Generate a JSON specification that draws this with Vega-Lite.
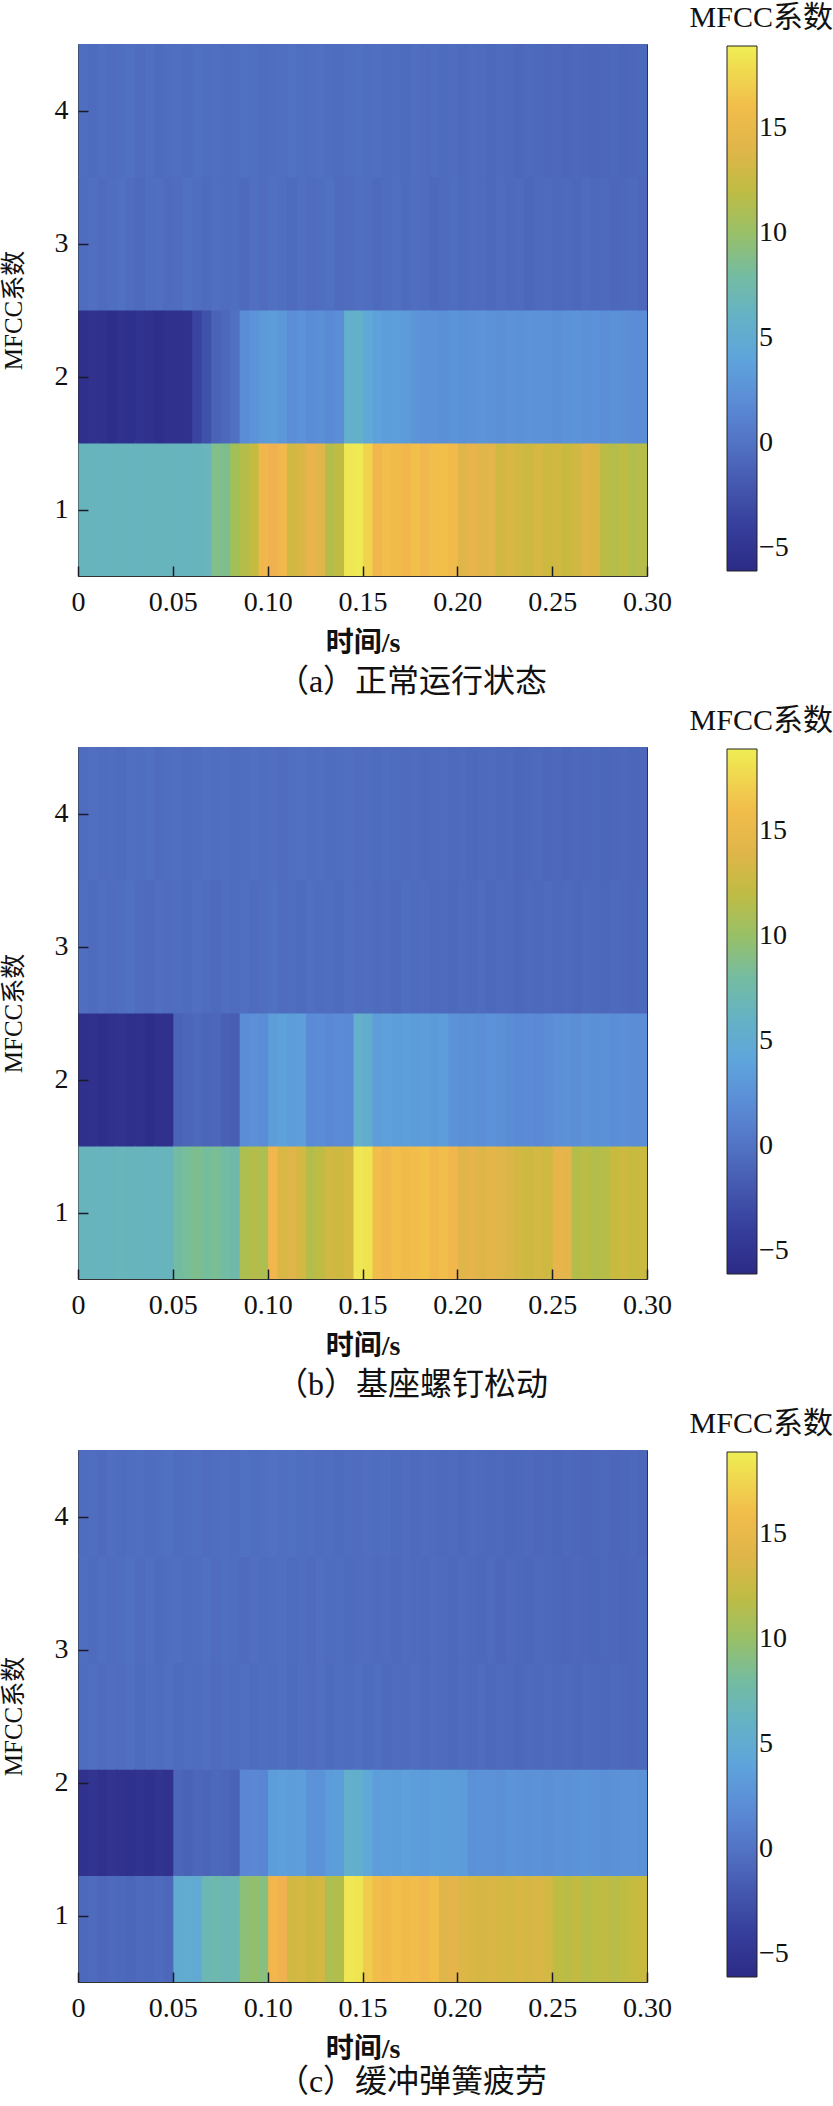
{
"$schema": "https://vega.github.io/schema/vega-lite/v6.json",
"padding": {"left": 0, "top": 2, "right": 0, "bottom": 0},
"background": "white",
"spacing": 7,
"resolve": {"scale": {"color": "independent"}, "legend": {"color": "independent"}},
"config": {
  "font": "Liberation Serif, Noto Sans CJK SC",
  "view": {"stroke": "#333", "strokeWidth": 1},
  "axis": {"labelFont": "Liberation Serif", "labelFontSize": 28, "labelColor": "#111", "titleFont": "Liberation Serif, Noto Sans CJK SC", "titleFontSize": 28, "titleColor": "#111", "titleFontWeight": "normal", "tickColor": "#1a1a2a", "tickWidth": 1.5, "tickSize": -10, "domain": false, "grid": false, "labelFlush": false},
  "legend": {"gradientLength": 525, "gradientThickness": 30, "gradientStrokeColor": "#222", "gradientStrokeWidth": 1, "labelFont": "Liberation Serif", "labelFontSize": 28, "labelColor": "#111", "labelOffset": 6, "labelOverlap": false, "padding": 0},
  "title": {"font": "Liberation Serif, Noto Sans CJK SC", "fontSize": 28, "fontWeight": "normal", "color": "#111"}
},
"datasets": {
"a": [
{"t":0,"k1":6.5,"k2":-5.6,"k3":-0.5,"k4":-0.4},
{"t":0.005,"k1":6.5,"k2":-5.3,"k3":-0.3,"k4":-0.6},
{"t":0.01,"k1":6.4,"k2":-5.5,"k3":-0.6,"k4":-0.3},
{"t":0.015,"k1":6.5,"k2":-5.8,"k3":-0.4,"k4":-0.5},
{"t":0.02,"k1":6.5,"k2":-5.4,"k3":-0.2,"k4":-0.4},
{"t":0.025,"k1":6.5,"k2":-5.6,"k3":-0.5,"k4":-0.2},
{"t":0.03,"k1":6.4,"k2":-5.2,"k3":-0.7,"k4":-0.5},
{"t":0.035,"k1":6.5,"k2":-5.5,"k3":-0.4,"k4":-0.3},
{"t":0.04,"k1":6.5,"k2":-5.7,"k3":-0.3,"k4":-0.6},
{"t":0.045,"k1":6.5,"k2":-5.4,"k3":-0.6,"k4":-0.4},
{"t":0.05,"k1":6.5,"k2":-5.5,"k3":-0.5,"k4":-0.3},
{"t":0.055,"k1":6.4,"k2":-5.3,"k3":-0.2,"k4":-0.5},
{"t":0.06,"k1":6.5,"k2":-3.5,"k3":-0.4,"k4":-0.2},
{"t":0.065,"k1":6.6,"k2":-2.5,"k3":-0.6,"k4":-0.4},
{"t":0.07,"k1":9.0,"k2":-1.2,"k3":-0.3,"k4":-0.3},
{"t":0.075,"k1":8.8,"k2":-0.8,"k3":-0.5,"k4":-0.5},
{"t":0.08,"k1":10.5,"k2":-0.2,"k3":-0.4,"k4":-0.4},
{"t":0.085,"k1":11.5,"k2":2.0,"k3":-0.7,"k4":-0.2},
{"t":0.09,"k1":12.3,"k2":2.5,"k3":-0.3,"k4":-0.3},
{"t":0.095,"k1":15.5,"k2":3.2,"k3":-0.5,"k4":-0.5},
{"t":0.1,"k1":15.0,"k2":3.5,"k3":-0.2,"k4":-0.4},
{"t":0.105,"k1":15.6,"k2":3.0,"k3":-0.4,"k4":-0.3},
{"t":0.11,"k1":13.0,"k2":2.2,"k3":-0.6,"k4":-0.1},
{"t":0.115,"k1":13.6,"k2":2.5,"k3":-0.3,"k4":-0.4},
{"t":0.12,"k1":14.6,"k2":2.0,"k3":-0.5,"k4":-0.3},
{"t":0.125,"k1":14.0,"k2":2.3,"k3":-0.4,"k4":-0.2},
{"t":0.13,"k1":11.5,"k2":1.8,"k3":-0.2,"k4":-0.4},
{"t":0.135,"k1":12.0,"k2":2.2,"k3":-0.6,"k4":-0.5},
{"t":0.14,"k1":18.5,"k2":5.5,"k3":-0.5,"k4":-0.3},
{"t":0.145,"k1":18.6,"k2":5.8,"k3":-0.3,"k4":-0.2},
{"t":0.15,"k1":17.5,"k2":4.5,"k3":-0.4,"k4":-0.4},
{"t":0.155,"k1":15.5,"k2":3.8,"k3":-0.7,"k4":-0.3},
{"t":0.16,"k1":16.0,"k2":3.5,"k3":-0.5,"k4":-0.5},
{"t":0.165,"k1":15.8,"k2":3.6,"k3":-0.3,"k4":-0.4},
{"t":0.17,"k1":15.5,"k2":3.3,"k3":-0.6,"k4":-0.6},
{"t":0.175,"k1":16.2,"k2":2.8,"k3":-0.4,"k4":-0.3},
{"t":0.18,"k1":15.6,"k2":2.5,"k3":-0.5,"k4":-0.5},
{"t":0.185,"k1":16.0,"k2":2.6,"k3":-0.8,"k4":-0.4},
{"t":0.19,"k1":16.3,"k2":2.3,"k3":-0.6,"k4":-0.6},
{"t":0.195,"k1":15.8,"k2":2.7,"k3":-0.4,"k4":-0.5},
{"t":0.2,"k1":14.0,"k2":2.4,"k3":-0.7,"k4":-0.7},
{"t":0.205,"k1":14.5,"k2":2.6,"k3":-0.5,"k4":-0.5},
{"t":0.21,"k1":14.0,"k2":2.8,"k3":-0.6,"k4":-0.6},
{"t":0.215,"k1":14.2,"k2":2.5,"k3":-0.8,"k4":-0.8},
{"t":0.22,"k1":13.0,"k2":2.3,"k3":-0.5,"k4":-0.6},
{"t":0.225,"k1":13.5,"k2":2.6,"k3":-0.7,"k4":-0.7},
{"t":0.23,"k1":13.0,"k2":2.4,"k3":-0.6,"k4":-0.9},
{"t":0.235,"k1":12.8,"k2":2.7,"k3":-0.9,"k4":-0.7},
{"t":0.24,"k1":13.4,"k2":2.5,"k3":-0.7,"k4":-0.8},
{"t":0.245,"k1":12.8,"k2":2.6,"k3":-0.6,"k4":-0.9},
{"t":0.25,"k1":13.0,"k2":2.3,"k3":-0.8,"k4":-0.8},
{"t":0.255,"k1":12.5,"k2":2.5,"k3":-0.7,"k4":-1.0},
{"t":0.26,"k1":13.0,"k2":2.7,"k3":-0.9,"k4":-0.8},
{"t":0.265,"k1":13.8,"k2":2.4,"k3":-0.6,"k4":-0.9},
{"t":0.27,"k1":13.5,"k2":2.6,"k3":-0.8,"k4":-1.0},
{"t":0.275,"k1":11.8,"k2":2.2,"k3":-0.7,"k4":-0.9},
{"t":0.28,"k1":11.5,"k2":2.4,"k3":-0.9,"k4":-0.8},
{"t":0.285,"k1":12.0,"k2":2.3,"k3":-0.8,"k4":-1.0},
{"t":0.29,"k1":11.3,"k2":2.1,"k3":-0.7,"k4":-0.9},
{"t":0.295,"k1":11.6,"k2":2.0,"k3":-0.9,"k4":-0.8}
],
"b": [
{"t":0,"k1":6.5,"k2":-5.6,"k3":-0.4,"k4":-0.5},
{"t":0.005,"k1":6.5,"k2":-5.4,"k3":-0.6,"k4":-0.3},
{"t":0.01,"k1":6.4,"k2":-5.7,"k3":-0.3,"k4":-0.5},
{"t":0.015,"k1":6.5,"k2":-5.5,"k3":-0.5,"k4":-0.4},
{"t":0.02,"k1":6.6,"k2":-5.3,"k3":-0.4,"k4":-0.6},
{"t":0.025,"k1":6.5,"k2":-5.6,"k3":-0.2,"k4":-0.3},
{"t":0.03,"k1":6.5,"k2":-5.4,"k3":-0.5,"k4":-0.4},
{"t":0.035,"k1":6.4,"k2":-5.8,"k3":-0.6,"k4":-0.2},
{"t":0.04,"k1":6.5,"k2":-5.5,"k3":-0.3,"k4":-0.5},
{"t":0.045,"k1":6.5,"k2":-5.4,"k3":-0.5,"k4":-0.4},
{"t":0.05,"k1":8.0,"k2":-1.2,"k3":-0.4,"k4":-0.3},
{"t":0.055,"k1":8.5,"k2":-1.0,"k3":-0.6,"k4":-0.5},
{"t":0.06,"k1":8.8,"k2":-0.8,"k3":-0.3,"k4":-0.4},
{"t":0.065,"k1":8.3,"k2":-1.1,"k3":-0.5,"k4":-0.2},
{"t":0.07,"k1":8.6,"k2":-0.9,"k3":-0.7,"k4":-0.4},
{"t":0.075,"k1":7.8,"k2":-1.4,"k3":-0.4,"k4":-0.3},
{"t":0.08,"k1":7.5,"k2":-1.6,"k3":-0.5,"k4":-0.5},
{"t":0.085,"k1":11.0,"k2":2.0,"k3":-0.3,"k4":-0.4},
{"t":0.09,"k1":11.5,"k2":2.3,"k3":-0.6,"k4":-0.2},
{"t":0.095,"k1":11.0,"k2":2.1,"k3":-0.4,"k4":-0.4},
{"t":0.1,"k1":15.5,"k2":3.5,"k3":-0.2,"k4":-0.3},
{"t":0.105,"k1":13.5,"k2":3.8,"k3":-0.5,"k4":-0.5},
{"t":0.11,"k1":14.0,"k2":3.4,"k3":-0.4,"k4":-0.3},
{"t":0.115,"k1":13.2,"k2":3.6,"k3":-0.6,"k4":-0.2},
{"t":0.12,"k1":11.5,"k2":1.8,"k3":-0.3,"k4":-0.4},
{"t":0.125,"k1":12.0,"k2":2.0,"k3":-0.5,"k4":-0.3},
{"t":0.13,"k1":13.0,"k2":1.7,"k3":-0.4,"k4":-0.5},
{"t":0.135,"k1":12.8,"k2":1.9,"k3":-0.6,"k4":-0.4},
{"t":0.14,"k1":13.3,"k2":1.8,"k3":-0.3,"k4":-0.3},
{"t":0.145,"k1":18.5,"k2":5.5,"k3":-0.5,"k4":-0.5},
{"t":0.15,"k1":18.3,"k2":5.3,"k3":-0.4,"k4":-0.4},
{"t":0.155,"k1":16.0,"k2":3.5,"k3":-0.6,"k4":-0.6},
{"t":0.16,"k1":15.6,"k2":3.7,"k3":-0.5,"k4":-0.4},
{"t":0.165,"k1":16.2,"k2":3.4,"k3":-0.7,"k4":-0.5},
{"t":0.17,"k1":15.8,"k2":3.6,"k3":-0.4,"k4":-0.6},
{"t":0.175,"k1":16.0,"k2":3.3,"k3":-0.6,"k4":-0.5},
{"t":0.18,"k1":16.4,"k2":3.5,"k3":-0.5,"k4":-0.7},
{"t":0.185,"k1":15.7,"k2":3.2,"k3":-0.7,"k4":-0.6},
{"t":0.19,"k1":16.0,"k2":3.4,"k3":-0.6,"k4":-0.5},
{"t":0.195,"k1":15.5,"k2":2.5,"k3":-0.8,"k4":-0.7},
{"t":0.2,"k1":14.0,"k2":2.3,"k3":-0.6,"k4":-0.6},
{"t":0.205,"k1":14.4,"k2":2.4,"k3":-0.7,"k4":-0.8},
{"t":0.21,"k1":13.8,"k2":2.2,"k3":-0.5,"k4":-0.7},
{"t":0.215,"k1":14.2,"k2":2.6,"k3":-0.8,"k4":-0.6},
{"t":0.22,"k1":14.0,"k2":2.3,"k3":-0.6,"k4":-0.8},
{"t":0.225,"k1":13.6,"k2":2.1,"k3":-0.7,"k4":-0.7},
{"t":0.23,"k1":13.0,"k2":1.8,"k3":-0.9,"k4":-0.9},
{"t":0.235,"k1":12.8,"k2":1.9,"k3":-0.7,"k4":-0.8},
{"t":0.24,"k1":13.2,"k2":1.7,"k3":-0.8,"k4":-0.7},
{"t":0.245,"k1":12.9,"k2":2.0,"k3":-0.6,"k4":-0.9},
{"t":0.25,"k1":14.5,"k2":2.3,"k3":-0.8,"k4":-0.8},
{"t":0.255,"k1":14.2,"k2":2.4,"k3":-0.7,"k4":-1.0},
{"t":0.26,"k1":11.5,"k2":2.2,"k3":-0.9,"k4":-0.8},
{"t":0.265,"k1":11.8,"k2":2.5,"k3":-0.7,"k4":-0.9},
{"t":0.27,"k1":11.3,"k2":2.3,"k3":-0.8,"k4":-0.8},
{"t":0.275,"k1":11.6,"k2":2.4,"k3":-0.9,"k4":-1.0},
{"t":0.28,"k1":12.5,"k2":2.2,"k3":-0.7,"k4":-0.9},
{"t":0.285,"k1":12.8,"k2":2.3,"k3":-0.8,"k4":-0.8},
{"t":0.29,"k1":12.4,"k2":2.1,"k3":-0.9,"k4":-1.0},
{"t":0.295,"k1":12.6,"k2":2.2,"k3":-0.8,"k4":-0.9}
],
"c": [
{"t":0,"k1":-0.8,"k2":-5.3,"k3":-0.5,"k4":-0.4,"k5":-0.5},
{"t":0.005,"k1":-0.6,"k2":-5.0,"k3":-0.3,"k4":-0.6,"k5":-0.4},
{"t":0.01,"k1":-0.9,"k2":-5.4,"k3":-0.6,"k4":-0.3,"k5":-0.6},
{"t":0.015,"k1":-0.7,"k2":-5.1,"k3":-0.4,"k4":-0.5,"k5":-0.3},
{"t":0.02,"k1":-0.8,"k2":-5.3,"k3":-0.5,"k4":-0.4,"k5":-0.5},
{"t":0.025,"k1":-1.0,"k2":-5.5,"k3":-0.3,"k4":-0.2,"k5":-0.4},
{"t":0.03,"k1":-0.7,"k2":-5.2,"k3":-0.6,"k4":-0.5,"k5":-0.3},
{"t":0.035,"k1":-0.8,"k2":-5.4,"k3":-0.4,"k4":-0.3,"k5":-0.5},
{"t":0.04,"k1":-0.6,"k2":-5.0,"k3":-0.5,"k4":-0.6,"k5":-0.4},
{"t":0.045,"k1":-0.9,"k2":-5.3,"k3":-0.3,"k4":-0.4,"k5":-0.2},
{"t":0.05,"k1":5.0,"k2":-1.0,"k3":-0.6,"k4":-0.3,"k5":-0.5},
{"t":0.055,"k1":5.2,"k2":-1.2,"k3":-0.4,"k4":-0.5,"k5":-0.4},
{"t":0.06,"k1":4.8,"k2":-0.9,"k3":-0.5,"k4":-0.4,"k5":-0.3},
{"t":0.065,"k1":7.0,"k2":-1.1,"k3":-0.3,"k4":-0.2,"k5":-0.5},
{"t":0.07,"k1":7.3,"k2":-0.8,"k3":-0.6,"k4":-0.5,"k5":-0.4},
{"t":0.075,"k1":6.8,"k2":-1.0,"k3":-0.4,"k4":-0.3,"k5":-0.3},
{"t":0.08,"k1":7.1,"k2":-1.2,"k3":-0.5,"k4":-0.4,"k5":-0.5},
{"t":0.085,"k1":9.5,"k2":1.5,"k3":-0.3,"k4":-0.6,"k5":-0.2},
{"t":0.09,"k1":9.8,"k2":1.7,"k3":-0.6,"k4":-0.3,"k5":-0.4},
{"t":0.095,"k1":9.3,"k2":1.4,"k3":-0.4,"k4":-0.5,"k5":-0.3},
{"t":0.1,"k1":15.5,"k2":3.5,"k3":-0.5,"k4":-0.4,"k5":-0.1},
{"t":0.105,"k1":15.0,"k2":3.7,"k3":-0.3,"k4":-0.3,"k5":-0.3},
{"t":0.11,"k1":13.0,"k2":3.4,"k3":-0.6,"k4":-0.5,"k5":-0.2},
{"t":0.115,"k1":13.3,"k2":3.6,"k3":-0.4,"k4":-0.4,"k5":-0.4},
{"t":0.12,"k1":12.8,"k2":2.6,"k3":-0.5,"k4":-0.6,"k5":-0.3},
{"t":0.125,"k1":13.1,"k2":2.5,"k3":-0.3,"k4":-0.3,"k5":-0.5},
{"t":0.13,"k1":11.0,"k2":3.3,"k3":-0.6,"k4":-0.5,"k5":-0.4},
{"t":0.135,"k1":11.3,"k2":3.5,"k3":-0.4,"k4":-0.4,"k5":-0.6},
{"t":0.14,"k1":18.5,"k2":5.5,"k3":-0.5,"k4":-0.6,"k5":-0.4},
{"t":0.145,"k1":18.4,"k2":5.4,"k3":-0.3,"k4":-0.5,"k5":-0.5},
{"t":0.15,"k1":17.0,"k2":4.5,"k3":-0.6,"k4":-0.4,"k5":-0.3},
{"t":0.155,"k1":16.0,"k2":3.5,"k3":-0.4,"k4":-0.6,"k5":-0.5},
{"t":0.16,"k1":15.7,"k2":3.6,"k3":-0.7,"k4":-0.5,"k5":-0.4},
{"t":0.165,"k1":16.2,"k2":3.4,"k3":-0.5,"k4":-0.7,"k5":-0.6},
{"t":0.17,"k1":15.8,"k2":3.7,"k3":-0.6,"k4":-0.5,"k5":-0.5},
{"t":0.175,"k1":16.0,"k2":3.5,"k3":-0.4,"k4":-0.6,"k5":-0.7},
{"t":0.18,"k1":15.6,"k2":3.3,"k3":-0.7,"k4":-0.7,"k5":-0.5},
{"t":0.185,"k1":16.1,"k2":3.6,"k3":-0.5,"k4":-0.5,"k5":-0.6},
{"t":0.19,"k1":14.0,"k2":3.4,"k3":-0.6,"k4":-0.6,"k5":-0.7},
{"t":0.195,"k1":14.3,"k2":3.5,"k3":-0.8,"k4":-0.8,"k5":-0.6},
{"t":0.2,"k1":13.9,"k2":3.3,"k3":-0.6,"k4":-0.6,"k5":-0.8},
{"t":0.205,"k1":13.5,"k2":2.4,"k3":-0.7,"k4":-0.7,"k5":-0.6},
{"t":0.21,"k1":13.3,"k2":2.6,"k3":-0.5,"k4":-0.8,"k5":-0.7},
{"t":0.215,"k1":13.6,"k2":2.5,"k3":-0.8,"k4":-0.6,"k5":-0.8},
{"t":0.22,"k1":13.4,"k2":2.3,"k3":-0.6,"k4":-0.9,"k5":-0.7},
{"t":0.225,"k1":13.2,"k2":2.7,"k3":-0.7,"k4":-0.7,"k5":-0.9},
{"t":0.23,"k1":13.5,"k2":2.5,"k3":-0.9,"k4":-0.8,"k5":-0.8},
{"t":0.235,"k1":13.3,"k2":2.4,"k3":-0.7,"k4":-0.9,"k5":-0.7},
{"t":0.24,"k1":13.6,"k2":2.6,"k3":-0.8,"k4":-0.7,"k5":-0.9},
{"t":0.245,"k1":13.2,"k2":2.3,"k3":-0.6,"k4":-0.8,"k5":-0.8},
{"t":0.25,"k1":12.0,"k2":2.5,"k3":-0.8,"k4":-0.9,"k5":-1.0},
{"t":0.255,"k1":11.8,"k2":2.4,"k3":-0.7,"k4":-1.0,"k5":-0.8},
{"t":0.26,"k1":12.2,"k2":2.6,"k3":-0.9,"k4":-0.8,"k5":-0.9},
{"t":0.265,"k1":11.6,"k2":2.7,"k3":-0.7,"k4":-0.9,"k5":-1.0},
{"t":0.27,"k1":11.9,"k2":2.5,"k3":-0.8,"k4":-1.0,"k5":-0.9},
{"t":0.275,"k1":12.1,"k2":2.3,"k3":-0.9,"k4":-0.8,"k5":-0.8},
{"t":0.28,"k1":11.7,"k2":2.4,"k3":-0.7,"k4":-0.9,"k5":-1.0},
{"t":0.285,"k1":12.0,"k2":2.5,"k3":-0.8,"k4":-1.0,"k5":-0.9},
{"t":0.29,"k1":12.3,"k2":2.6,"k3":-0.9,"k4":-0.9,"k5":-0.8},
{"t":0.295,"k1":12.5,"k2":2.4,"k3":-0.8,"k4":-0.8,"k5":-1.0}
]
},
"vconcat": [
{
  "title": {"text": "（a）正常运行状态", "orient": "bottom", "anchor": "middle", "frame": "bounds", "offset": 9, "dx": -5, "fontSize": 32},
  "vconcat": [{
    "data": {"name": "a"},
    "width": 569, "height": 532,
    "title": {"text": "MFCC系数", "anchor": "end", "frame": "group", "offset": 11, "dx": 186, "fontSize": 30},
    "transform": [
      {"fold": ["k1", "k2", "k3", "k4"], "as": ["k", "v"]},
      {"lookup": "k", "from": {"data": {"values": [{"k": "k1", "y": 0.5}, {"k": "k2", "y": 1.5}, {"k": "k3", "y": 2.5}, {"k": "k4", "y": 3.5}]}, "key": "k", "fields": ["y"]}}
    ],
    "mark": {"type": "rect", "clip": true},
    "encoding": {
      "x": {"field": "t", "type": "quantitative", "bin": {"binned": true, "step": 0.0056}, "title": "时间/s", "scale": {"domain": [0, 0.3], "nice": false, "zero": false}, "axis": {"values": [0, 0.05, 0.1, 0.15, 0.2, 0.25, 0.3], "labelExpr": "datum.value == 0 ? '0' : format(datum.value, '.2f')", "labelPadding": 22, "titlePadding": 13, "titleFontWeight": "bold"}},
      "y": {"field": "y", "type": "quantitative", "bin": {"binned": true, "step": 1.01}, "title": "MFCC系数", "scale": {"domain": [0.5, 4.5], "nice": false, "zero": false}, "axis": {"values": [1, 2, 3, 4], "labelExpr": "format(datum.value, 'd')", "labelPadding": 20, "titlePadding": 28, "titleFontSize": 25}},
      "color": {"field": "v", "type": "quantitative", "scale": {"domain": [-6.1, -3.6, -1.0, 1.5, 4.0, 6.0, 8.5, 10.5, 12.5, 15.0, 16.5, 18.9], "range": ["#2c2b86", "#38429f", "#4c66b9", "#5a86d4", "#5ea4dc", "#64b2c6", "#78be98", "#a2c056", "#c8ba3e", "#f0b250", "#f2c248", "#eeee55"], "interpolate": "rgb"}, "legend": {"orient": "none", "legendX": 649, "legendY": 2, "title": null, "values": [-5, 0, 5, 10, 15]}}
    }
  }]
},
{
  "title": {"text": "（b）基座螺钉松动", "orient": "bottom", "anchor": "middle", "frame": "bounds", "offset": 9, "dx": -5, "fontSize": 32},
  "vconcat": [{
    "data": {"name": "b"},
    "width": 569, "height": 532,
    "title": {"text": "MFCC系数", "anchor": "end", "frame": "group", "offset": 11, "dx": 186, "fontSize": 30},
    "transform": [
      {"fold": ["k1", "k2", "k3", "k4"], "as": ["k", "v"]},
      {"lookup": "k", "from": {"data": {"values": [{"k": "k1", "y": 0.5}, {"k": "k2", "y": 1.5}, {"k": "k3", "y": 2.5}, {"k": "k4", "y": 3.5}]}, "key": "k", "fields": ["y"]}}
    ],
    "mark": {"type": "rect", "clip": true},
    "encoding": {
      "x": {"field": "t", "type": "quantitative", "bin": {"binned": true, "step": 0.0056}, "title": "时间/s", "scale": {"domain": [0, 0.3], "nice": false, "zero": false}, "axis": {"values": [0, 0.05, 0.1, 0.15, 0.2, 0.25, 0.3], "labelExpr": "datum.value == 0 ? '0' : format(datum.value, '.2f')", "labelPadding": 22, "titlePadding": 13, "titleFontWeight": "bold"}},
      "y": {"field": "y", "type": "quantitative", "bin": {"binned": true, "step": 1.01}, "title": "MFCC系数", "scale": {"domain": [0.5, 4.5], "nice": false, "zero": false}, "axis": {"values": [1, 2, 3, 4], "labelExpr": "format(datum.value, 'd')", "labelPadding": 20, "titlePadding": 28, "titleFontSize": 25}},
      "color": {"field": "v", "type": "quantitative", "scale": {"domain": [-6.1, -3.6, -1.0, 1.5, 4.0, 6.0, 8.5, 10.5, 12.5, 15.0, 16.5, 18.9], "range": ["#2c2b86", "#38429f", "#4c66b9", "#5a86d4", "#5ea4dc", "#64b2c6", "#78be98", "#a2c056", "#c8ba3e", "#f0b250", "#f2c248", "#eeee55"], "interpolate": "rgb"}, "legend": {"orient": "none", "legendX": 649, "legendY": 2, "title": null, "values": [-5, 0, 5, 10, 15]}}
    }
  }]
},
{
  "title": {"text": "（c）缓冲弹簧疲劳", "orient": "bottom", "anchor": "middle", "frame": "bounds", "offset": 3, "dx": -5, "fontSize": 32},
  "vconcat": [{
    "data": {"name": "c"},
    "width": 569, "height": 532,
    "title": {"text": "MFCC系数", "anchor": "end", "frame": "group", "offset": 11, "dx": 186, "fontSize": 30},
    "transform": [
      {"fold": ["k1", "k2", "k3", "k4", "k5"], "as": ["k", "v"]},
      {"lookup": "k", "from": {"data": {"values": [{"k": "k1", "y": 0.5}, {"k": "k2", "y": 1.3}, {"k": "k3", "y": 2.1}, {"k": "k4", "y": 2.9}, {"k": "k5", "y": 3.7}]}, "key": "k", "fields": ["y"]}}
    ],
    "mark": {"type": "rect", "clip": true},
    "encoding": {
      "x": {"field": "t", "type": "quantitative", "bin": {"binned": true, "step": 0.0056}, "title": "时间/s", "scale": {"domain": [0, 0.3], "nice": false, "zero": false}, "axis": {"values": [0, 0.05, 0.1, 0.15, 0.2, 0.25, 0.3], "labelExpr": "datum.value == 0 ? '0' : format(datum.value, '.2f')", "labelPadding": 22, "titlePadding": 13, "titleFontWeight": "bold"}},
      "y": {"field": "y", "type": "quantitative", "bin": {"binned": true, "step": 0.81}, "title": "MFCC系数", "scale": {"domain": [0.5, 4.5], "nice": false, "zero": false}, "axis": {"values": [1, 2, 3, 4], "labelExpr": "format(datum.value, 'd')", "labelPadding": 20, "titlePadding": 28, "titleFontSize": 25}},
      "color": {"field": "v", "type": "quantitative", "scale": {"domain": [-6.1, -3.6, -1.0, 1.5, 4.0, 6.0, 8.5, 10.5, 12.5, 15.0, 16.5, 18.9], "range": ["#2c2b86", "#38429f", "#4c66b9", "#5a86d4", "#5ea4dc", "#64b2c6", "#78be98", "#a2c056", "#c8ba3e", "#f0b250", "#f2c248", "#eeee55"], "interpolate": "rgb"}, "legend": {"orient": "none", "legendX": 649, "legendY": 2, "title": null, "values": [-5, 0, 5, 10, 15]}}
    }
  }]
}
]
}
